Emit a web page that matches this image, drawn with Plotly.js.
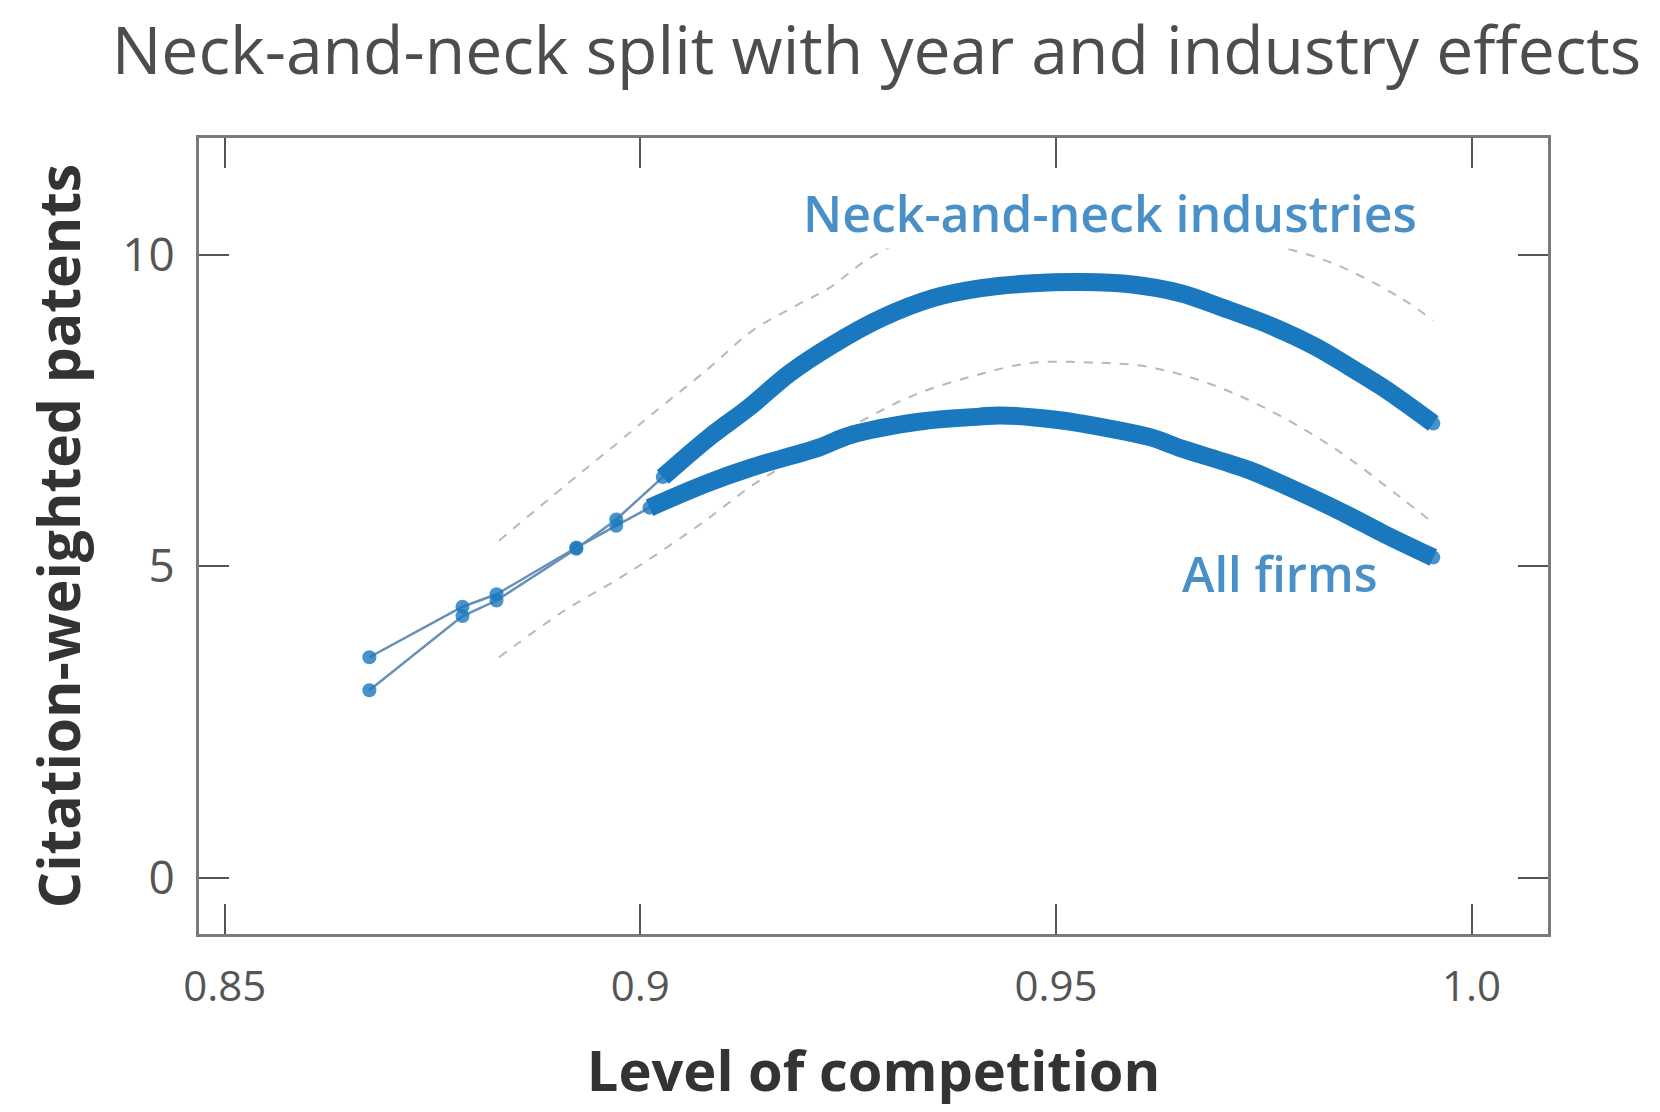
<!DOCTYPE html>
<html>
<head>
<meta charset="utf-8">
<script src="https://cdn.plot.ly/plotly-3.0.1.min.js"></script>
<style>
  html, body { margin: 0; padding: 0; background: #ffffff; }
  #chart { width: 1660px; height: 1112px; }
</style>
</head>
<body>
<div id="chart"></div>
<script>
// Predicted citation-weighted patents against the level of competition
const nnX = [0.8674, 0.8786, 0.8827, 0.8923, 0.8971, 0.9027, 0.9083, 0.9131, 0.9180, 0.9231,
             0.9290, 0.9352, 0.9410, 0.9472, 0.9530, 0.9592, 0.9650, 0.9700, 0.9760, 0.9814,
             0.9853, 0.9893, 0.9954];
const nnY = [3.01, 4.20, 4.45, 5.28, 5.75, 6.43, 7.07, 7.55, 8.10, 8.55,
             8.98, 9.30, 9.46, 9.54, 9.56, 9.52, 9.38, 9.15, 8.85, 8.51,
             8.20, 7.87, 7.29];

const allX = [0.8674, 0.8786, 0.8827, 0.8923, 0.8971, 0.9011, 0.9080, 0.9135, 0.9216, 0.9252,
              0.9336, 0.9408, 0.9433, 0.9500, 0.9560, 0.9613, 0.9653, 0.9701, 0.9733, 0.9814,
              0.9854, 0.9893, 0.9954];
const allY = [3.54, 4.35, 4.55, 5.30, 5.65, 5.94, 6.33, 6.59, 6.91, 7.10,
              7.32, 7.40, 7.42, 7.35, 7.22, 7.07, 6.88, 6.68, 6.54, 6.06,
              5.80, 5.53, 5.14];

// Confidence band around the neck-and-neck fit
const bandX     = [0.8830, 0.8910, 0.8970, 0.9015, 0.9080, 0.9135, 0.9190, 0.9228, 0.9273, 0.9330,
                   0.9400, 0.9470, 0.9540, 0.9610, 0.9680, 0.9750, 0.9833, 0.9914, 0.9954];
const bandUpper = [5.41, 6.30, 6.95, 7.45, 8.15, 8.78, 9.20, 9.47, 9.92, 10.30,
                   10.60, 10.75, 10.75, 10.65, 10.45, 10.20, 9.86, 9.31, 8.94];
const bandLower = [3.54, 4.30, 4.77, 5.15, 5.75, 6.30, 6.75, 7.05, 7.38, 7.75,
                   8.05, 8.26, 8.27, 8.20, 7.95, 7.55, 6.91, 6.11, 5.69];

const xTicks = [0.85, 0.9, 0.95, 1.0];
const xTickText = ['0.85', '0.9', '0.95', '1.0'];
const yTicks = [0, 5, 10];

const BLUE = '#1a78be';
const THIN = '#6690b8';
const BAND = '#b8b8b8';
const FONT = 'Open Sans, Noto Sans, sans-serif';

// index where the dense (thick) part of each fitted curve begins
const nnDense = nnX.findIndex(v => v >= 0.902);
const allDense = allX.findIndex(v => v >= 0.900);

const traces = [
  { x: bandX, y: bandUpper, mode: 'lines', line: { color: BAND, width: 2, dash: 'dash', shape: 'spline' }, hoverinfo: 'skip' },
  { x: bandX, y: bandLower, mode: 'lines', line: { color: BAND, width: 2, dash: 'dash', shape: 'spline' }, hoverinfo: 'skip' },
  { x: allX, y: allY, mode: 'lines+markers', line: { color: THIN, width: 2.5 },
    marker: { color: BLUE, size: 14, opacity: 0.8 }, name: 'All firms' },
  { x: nnX, y: nnY, mode: 'lines+markers', line: { color: THIN, width: 2.5 },
    marker: { color: BLUE, size: 14, opacity: 0.8 }, name: 'Neck-and-neck industries' },
  { x: allX.slice(allDense), y: allY.slice(allDense), mode: 'lines',
    line: { color: BLUE, width: 18, shape: 'spline' }, hoverinfo: 'skip' },
  { x: nnX.slice(nnDense), y: nnY.slice(nnDense), mode: 'lines',
    line: { color: BLUE, width: 18, shape: 'spline' }, hoverinfo: 'skip' }
];

const axisCommon = {
  showgrid: false, zeroline: false,
  showline: true, linecolor: '#7a7a7a', linewidth: 3, mirror: 'ticks',
  ticks: 'inside', ticklen: 30, tickwidth: 2, tickcolor: '#555555'
};

const layout = {
  width: 1660, height: 1112,
  margin: { l: 199, r: 112, t: 138, b: 178 },
  paper_bgcolor: '#ffffff', plot_bgcolor: '#ffffff',
  showlegend: false,
  title: {
    text: 'Neck-and-neck split with year and industry effects',
    font: { family: FONT, size: 66, color: '#4d4d4d' },
    x: 0.528, xanchor: 'center', xref: 'container',
    y: 0.954, yanchor: 'middle', yref: 'container'
  },
  xaxis: Object.assign({}, axisCommon, {
    range: [0.8469, 1.0092],
    tickmode: 'array', tickvals: xTicks, ticktext: xTickText,
    tickfont: { family: FONT, size: 42, color: '#555555' },
    ticklabelstandoff: 14,
    title: { text: '<b>Level of competition</b>', font: { family: FONT, size: 56, color: '#333333' }, standoff: 40 }
  }),
  yaxis: Object.assign({}, axisCommon, {
    range: [-0.90, 11.87],
    tickmode: 'array', tickvals: yTicks,
    tickfont: { family: FONT, size: 46, color: '#555555' },
    ticklabelstandoff: 12,
    title: { text: '<b>Citation-weighted patents</b>', font: { family: FONT, size: 57, color: '#333333' }, standoff: 24 }
  }),
  annotations: [
    { x: 0.9565, y: 10.66, xref: 'x', yref: 'y', text: 'Neck-and-neck industries', showarrow: false,
      font: { family: FONT, size: 50, color: '#4a90c8', weight: 600 }, bgcolor: '#ffffff' },
    { x: 0.9769, y: 4.89, xref: 'x', yref: 'y', text: 'All firms', showarrow: false,
      font: { family: FONT, size: 49, color: '#4a90c8', weight: 600 } }
  ]
};

Plotly.newPlot('chart', traces, layout, { displayModeBar: false, staticPlot: true });
</script>
</body>
</html>
